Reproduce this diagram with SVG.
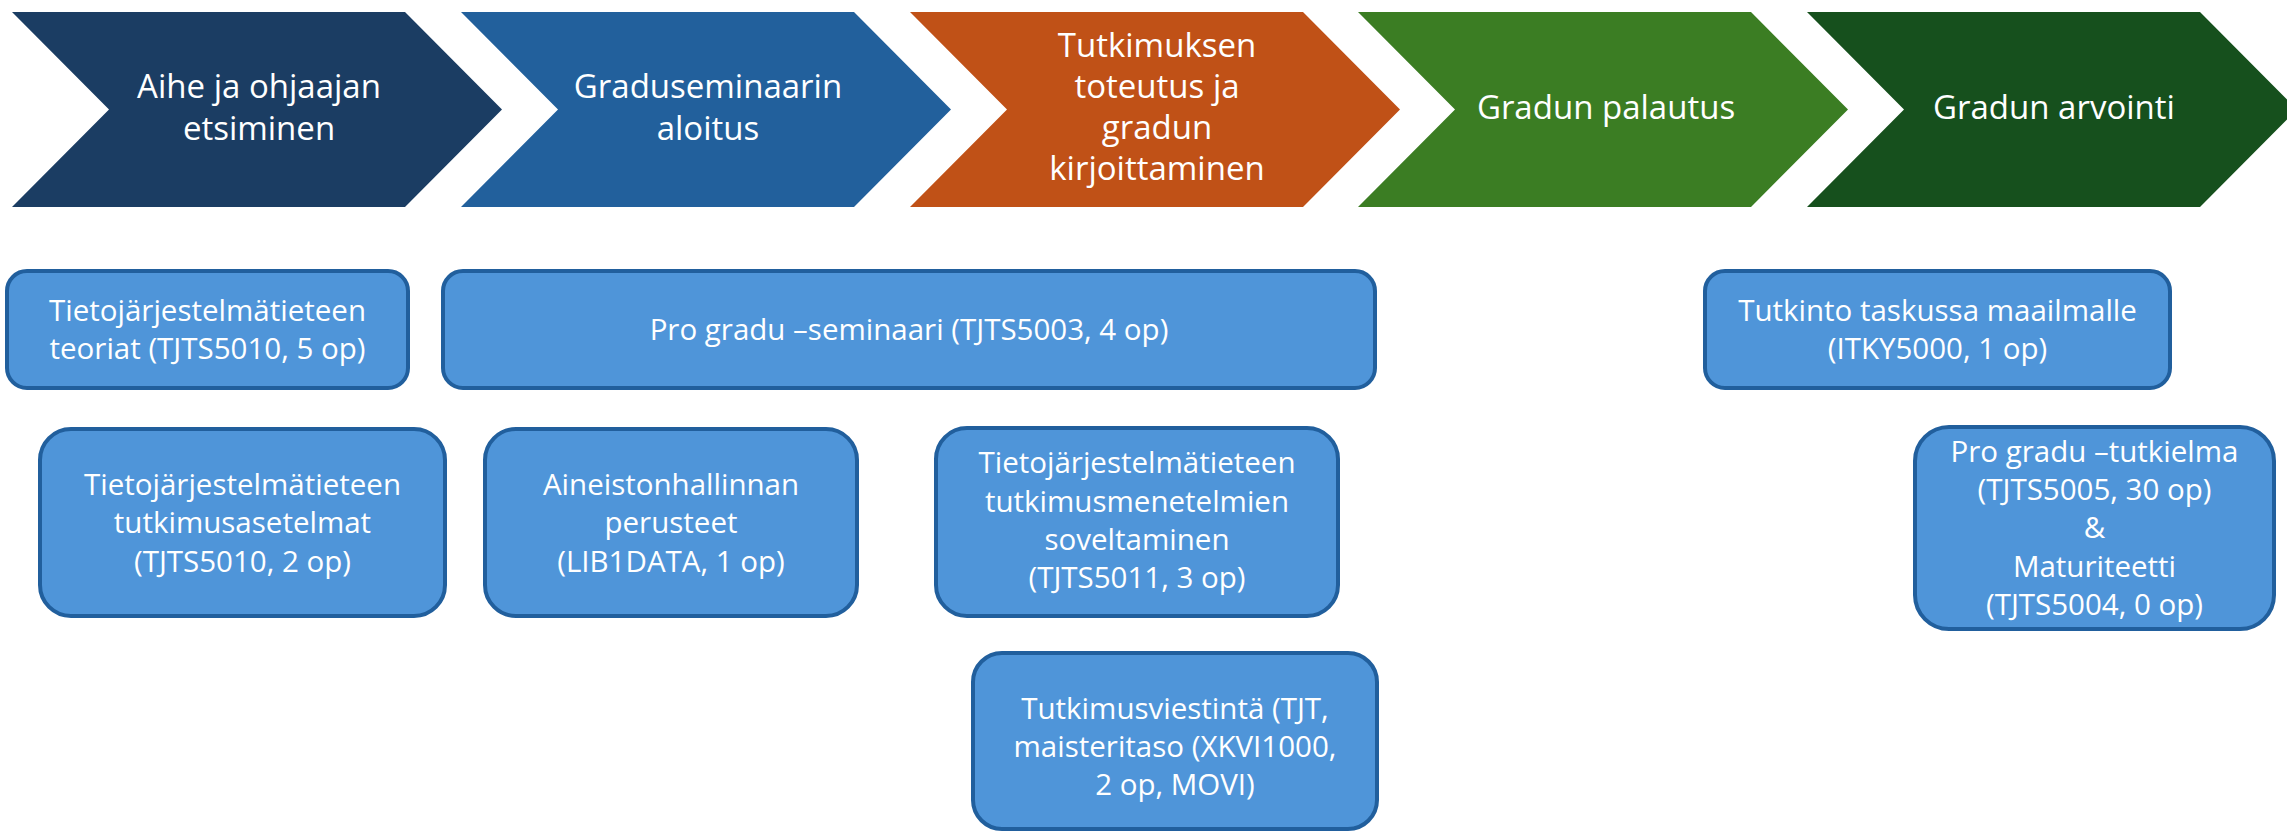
<svg xmlns="http://www.w3.org/2000/svg" width="2287" height="836" viewBox="0 0 2287 836">
  <style>
    .chev-text { font-family: "Open Sans", "Noto Sans", sans-serif; font-size: 33px; fill: #ffffff; text-anchor: middle; }
    .box { fill: #4f95d9; stroke: #215f9d; stroke-width: 4; }
    .box-text { font-family: "Open Sans", "Noto Sans", sans-serif; font-size: 29.5px; fill: #ffffff; text-anchor: middle; }
  </style>
  <rect x="0" y="0" width="2287" height="836" fill="#ffffff"/>

  <g id="chevron-1">
    <polygon points="12,12 405,12 502,109.5 405,207 12,207 109,109.5" fill="#1b3d63"/>
    <text class="chev-text"><tspan x="259" y="98">Aihe ja ohjaajan</tspan><tspan x="259" y="139.5">etsiminen</tspan></text>
  </g>
  <g id="chevron-2">
    <polygon points="461,12 854,12 951,109.5 854,207 461,207 558,109.5" fill="#22609c"/>
    <text class="chev-text"><tspan x="708" y="98">Graduseminaarin</tspan><tspan x="708" y="139.5">aloitus</tspan></text>
  </g>
  <g id="chevron-3">
    <polygon points="910,12 1303,12 1400,109.5 1303,207 910,207 1007,109.5" fill="#c05117"/>
    <text class="chev-text"><tspan x="1157" y="57">Tutkimuksen</tspan><tspan x="1157" y="98">toteutus ja</tspan><tspan x="1157" y="139">gradun</tspan><tspan x="1157" y="180">kirjoittaminen</tspan></text>
  </g>
  <g id="chevron-4">
    <polygon points="1358,12 1751,12 1848,109.5 1751,207 1358,207 1455,109.5" fill="#3b7d23"/>
    <text class="chev-text"><tspan x="1606" y="119">Gradun palautus</tspan></text>
  </g>
  <g id="chevron-5">
    <polygon points="1807,12 2200,12 2297,109.5 2200,207 1807,207 1904,109.5" fill="#16501d"/>
    <text class="chev-text"><tspan x="2054" y="119">Gradun arvointi</tspan></text>
  </g>

  <g id="box-teoriat">
    <rect class="box" x="7" y="271" width="401" height="117" rx="20" ry="20"/>
    <text class="box-text"><tspan x="207.5" y="321">Tietojärjestelmätieteen</tspan><tspan x="207.5" y="359">teoriat (TJTS5010, 5 op)</tspan></text>
  </g>
  <g id="box-seminaari">
    <rect class="box" x="443" y="271" width="932" height="117" rx="20" ry="20"/>
    <text class="box-text"><tspan x="909" y="340">Pro gradu –seminaari (TJTS5003, 4 op)</tspan></text>
  </g>
  <g id="box-tutkinto">
    <rect class="box" x="1705" y="271" width="465" height="117" rx="20" ry="20"/>
    <text class="box-text"><tspan x="1937.5" y="321">Tutkinto taskussa maailmalle</tspan><tspan x="1937.5" y="359">(ITKY5000, 1 op)</tspan></text>
  </g>
  <g id="box-asetelmat">
    <rect class="box" x="40" y="429" width="405" height="187" rx="31" ry="31"/>
    <text class="box-text"><tspan x="242.5" y="495">Tietojärjestelmätieteen</tspan><tspan x="242.5" y="533">tutkimusasetelmat</tspan><tspan x="242.5" y="572">(TJTS5010, 2 op)</tspan></text>
  </g>
  <g id="box-aineisto">
    <rect class="box" x="485" y="429" width="372" height="187" rx="31" ry="31"/>
    <text class="box-text"><tspan x="671" y="495">Aineistonhallinnan</tspan><tspan x="671" y="533">perusteet</tspan><tspan x="671" y="572">(LIB1DATA, 1 op)</tspan></text>
  </g>
  <g id="box-menetelmat">
    <rect class="box" x="936" y="428" width="402" height="188" rx="31" ry="31"/>
    <text class="box-text"><tspan x="1137" y="473">Tietojärjestelmätieteen</tspan><tspan x="1137" y="512">tutkimusmenetelmien</tspan><tspan x="1137" y="550">soveltaminen</tspan><tspan x="1137" y="588">(TJTS5011, 3 op)</tspan></text>
  </g>
  <g id="box-viestinta">
    <rect class="box" x="973" y="653" width="404" height="176" rx="29" ry="29"/>
    <text class="box-text"><tspan x="1175" y="719">Tutkimusviestintä (TJT,</tspan><tspan x="1175" y="757">maisteritaso (XKVI1000,</tspan><tspan x="1175" y="795">2 op, MOVI)</tspan></text>
  </g>
  <g id="box-tutkielma">
    <rect class="box" x="1915" y="427" width="359" height="202" rx="34" ry="34"/>
    <text class="box-text"><tspan x="2094.5" y="462">Pro gradu –tutkielma</tspan><tspan x="2094.5" y="500">(TJTS5005, 30 op)</tspan><tspan x="2094.5" y="538">&amp;</tspan><tspan x="2094.5" y="577">Maturiteetti</tspan><tspan x="2094.5" y="615">(TJTS5004, 0 op)</tspan></text>
  </g>

  <g id="connectors"></g>
</svg>
